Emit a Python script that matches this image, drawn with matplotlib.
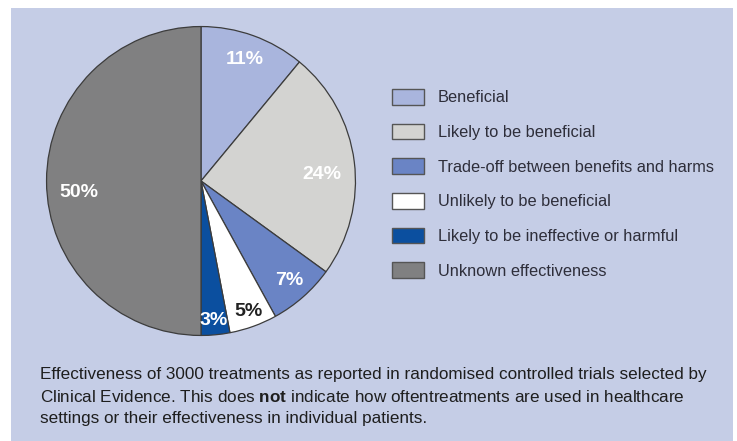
import numpy as np
import matplotlib
matplotlib.use('Agg')
import matplotlib.pyplot as plt

plt.rcParams['font.family'] = ['Liberation Sans', 'DejaVu Sans']
plt.rcParams['mathtext.fontset'] = 'custom'
plt.rcParams['mathtext.rm'] = 'Liberation Sans'
plt.rcParams['mathtext.bf'] = 'Liberation Sans:bold'

# data
categories = ['Beneficial', 'Likely to be beneficial', 'Trade-off between benefits and harms',
              'Unlikely to be beneficial', 'Likely to be ineffective or harmful',
              'Unknown effectiveness']
shares = [11, 24, 7, 5, 3, 50]
colors = ['#a9b5dd', '#d3d3d1', '#6a84c5', '#ffffff', '#0b4f9f', '#808081']
label_colors = ['white', 'white', 'white', '#222222', 'white', 'white']
# label placement: radius (fraction) and clockwise shift from wedge middle (deg)
label_radius = [0.837, 0.783, 0.863, 0.9, 0.905, 0.792]
label_shift = [0, 4, 0, 0, 0.4, -5.6]

W, H = 737, 441
fig = plt.figure(figsize=(W / 100, H / 100), dpi=100)
fig.patch.set_facecolor('white')

# lavender panel
bg = fig.add_axes([11 / W, 0, (733 - 11) / W, (H - 8) / H], zorder=-1)
bg.set_facecolor('#c5cde6')
bg.set_xticks([])
bg.set_yticks([])
for s in bg.spines.values():
    s.set_visible(False)

# pie axes
cx, cy, r = 201, 181, 156
ax = fig.add_axes([(cx - r) / W, (H - cy - r) / H, 2 * r / W, 2 * r / H], zorder=2)
ax.set_facecolor('none')
wedges, texts, autotexts = ax.pie(shares, colors=colors, startangle=90, counterclock=False,
                                  radius=1, autopct='%d%%', pctdistance=0.8,
                                  wedgeprops=dict(edgecolor='#3c3c3c', linewidth=0.9),
                                  textprops=dict(fontsize=14, fontweight='bold'))
for w, t, c, rr, sh in zip(wedges, autotexts, label_colors, label_radius, label_shift):
    mid = np.deg2rad((w.theta1 + w.theta2) / 2 - sh)
    t.set_position((rr * np.cos(mid), rr * np.sin(mid)))
    t.set_color(c)
ax.set_xlim(-1.01, 1.01)
ax.set_ylim(-1.01, 1.01)
ax.axis('off')

# legend
leg = fig.legend(wedges, categories, loc='upper left',
                 bbox_to_anchor=(392 / W, 1 - 89 / H), frameon=False,
                 fontsize=11.8, handlelength=1.95, handleheight=1.1,
                 handletextpad=0.85, labelspacing=1.11, borderpad=0,
                 borderaxespad=0)
leg.set_zorder(3)
for t in leg.get_texts():
    t.set_color('#2e2e3a')
for h in leg.legend_handles:
    h.set_edgecolor('#555555')
    h.set_linewidth(1.0)

# caption
caption = ['Effectiveness of 3000 treatments as reported in randomised controlled trials selected by',
           r'Clinical Evidence. This does $\mathbf{not}$ indicate how oftentreatments are used in healthcare',
           'settings or their effectiveness in individual patients.']
for i, line in enumerate(caption):
    fig.text(40 / W, 1 - (374 + i * 22.5) / H, line, fontsize=12.3, color='#1e1e1e',
             va='center', ha='left', zorder=3)

fig.savefig('out.png', dpi=100, facecolor=fig.get_facecolor())
